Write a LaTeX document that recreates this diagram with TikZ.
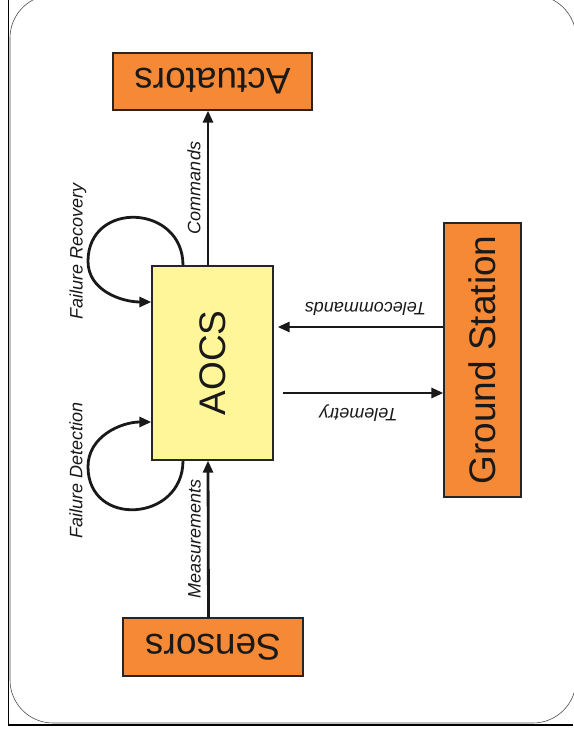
\documentclass[tikz,border=0pt]{standalone}
\usepackage{fontspec}
\setmainfont{Liberation Sans}
\usepackage{graphicx}
\usetikzlibrary{arrows.meta}
\definecolor{boxorange}{RGB}{245,137,54}
\definecolor{aocsyellow}{RGB}{255,246,153}

\begin{document}
\begin{tikzpicture}[x=1pt, y=1pt]
\tikzset{block/.style = {draw=black!85, line width=1.3pt, fill=boxorange, inner sep=0pt, text=black!90, font=\fontsize{37}{40}\selectfont}}
\tikzset{edge/.style = {->, > = {Triangle[length=12pt, width=10pt]}, line width=2.8pt, draw=black!90}}
\tikzset{lbl/.style = {inner sep=0pt, text=black!90, font=\fontsize{18}{20}\selectfont\itshape}}

\useasboundingbox (0,0) rectangle (573,735);
% page frame
\draw[black!70, line width=0.6pt, rounded corners=43pt] (10,12) rectangle (576,740);
\draw[line width=1pt] (8,735) -- (8,10);
\draw[line width=1.6pt] (8,10) -- (573,10);

\node[block, minimum width=199pt, minimum height=57pt] (act) at (212.5,653.5) {\rotatebox{180}{Actuators}};
\node[block, fill=aocsyellow, minimum width=121pt, minimum height=194pt] (aocs) at (212.5,372) {\rotatebox{90}{AOCS}};
\node[block, minimum width=180pt, minimum height=58pt] (sens) at (213,88) {\rotatebox{180}{Sensors}};
\node[block, minimum width=77pt, minimum height=274pt] (gs) at (482.5,375) {\rotatebox{90}{Ground Station}};

\draw[edge] ([xshift=-4.5pt]aocs.north) -- ([xshift=-4.5pt]act.south) node[lbl, midway, left=6pt] (cmdlbl) {\rotatebox{90}{Commands}};
\draw[edge] ([xshift=-4.5pt]sens.north) -- ([xshift=-4.5pt]aocs.south) node[lbl, midway, left=6pt] (measlbl) {\rotatebox{90}{Measurements}};
\draw[edge, shorten >=4pt] ([yshift=33pt]gs.west) -- ([yshift=36pt]aocs.east) node[lbl, midway, above=10pt, xshift=7pt] (tclbl) {\rotatebox{180}{Telecommands}};
\draw[edge, shorten <=9pt] ([yshift=-30pt]aocs.east) -- ([yshift=-33pt]gs.west) node[lbl, midway, below=10pt] (tmlbl) {\rotatebox{180}{Telemetry}};

% failure loops
\draw[edge] ([xshift=-29.5pt]aocs.north) to[out=90, in=90, looseness=1.65] ++(-95,4) to[out=-90, in=180] ([yshift=61pt]aocs.west);
\draw[edge] ([xshift=-29.5pt]aocs.south) to[out=-90, in=-90, looseness=1.65] ++(-95,-6) to[out=90, in=180] ([yshift=-59pt]aocs.west);
\node[lbl] (reclbl) at (78,484) {\rotatebox{90}{Failure Recovery}};
\node[lbl] (detlbl) at (76,265) {\rotatebox{90}{Failure Detection}};

\end{tikzpicture}
\end{document}
